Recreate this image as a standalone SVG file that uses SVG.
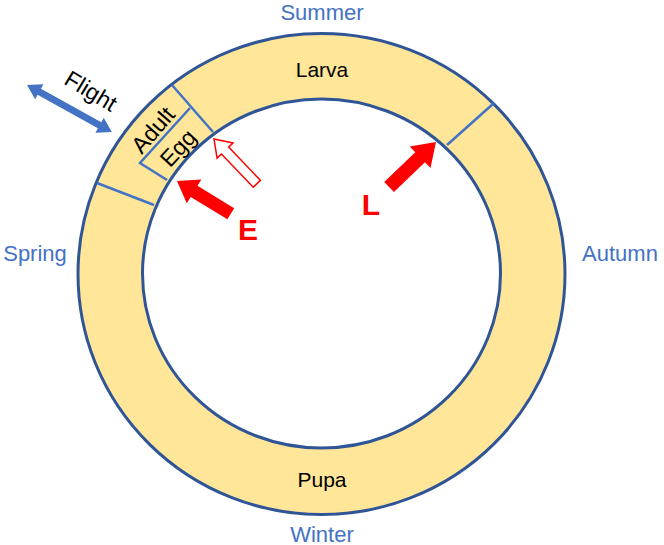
<svg xmlns="http://www.w3.org/2000/svg" width="664" height="545" viewBox="0 0 664 545">
<style>
.ring{stroke:#2F5597;stroke-width:3}
.div{stroke:#4472C4;stroke-width:2.5;fill:none}
.lbl{font-family:"Liberation Sans",Arial,sans-serif;font-size:21px;fill:#000;text-anchor:middle;dominant-baseline:central}
.sm{font-size:23px}
.season{font-family:"Liberation Sans",Arial,sans-serif;font-size:22px;fill:#4472C4;text-anchor:middle;dominant-baseline:central}
.red{font-family:"Liberation Sans",Arial,sans-serif;font-size:30px;font-weight:bold;fill:#FF0000;text-anchor:middle;dominant-baseline:central}
</style>
<rect width="664" height="545" fill="#fff"/>
<g id="ring">
<ellipse class="ring" cx="321.5" cy="274" rx="243.5" ry="240.5" fill="#FFE699"/>
<ellipse class="ring" cx="321.5" cy="273.5" rx="179" ry="174.5" fill="#fff"/>
</g>
<g id="larva">
<line class="div" x1="494" y1="103" x2="447" y2="145"/>
<text class="lbl" x="322" y="69">Larva</text>
</g>
<g id="pupa">
<text class="lbl" x="322" y="479">Pupa</text>
</g>
<g id="adult">
<line class="div" x1="172" y1="85" x2="213" y2="132"/>
<line class="div" x1="97" y1="183" x2="154" y2="205"/>
<text class="lbl sm" transform="translate(153,130) rotate(-49)">Adult</text>
</g>
<g id="egg">
<polyline class="div" points="190,108 140,163 167,180"/>
<text class="lbl sm" transform="translate(178,148) rotate(-47)">Egg</text>
</g>
<g id="seasons">
<text class="season" x="322" y="12">Summer</text>
<text class="season" x="322" y="534">Winter</text>
<text class="season" x="35" y="253">Spring</text>
<text class="season" x="620" y="253">Autumn</text>
</g>
<g id="flight">
<text class="lbl sm" transform="translate(91,91) rotate(31)">Flight</text>
</g>
<g id="connectors">
<polygon fill="#4472C4" transform="translate(27,85) rotate(29)" points="0,0 14,-8.5 14,-3.5 83,-3.5 83,-8.5 97,0 83,8.5 83,3.5 14,3.5 14,8.5"/>
<polygon fill="#FF0000" transform="translate(177,181) rotate(-148.6)" points="0,0 -20,-14 -20,-6.5 -63,-6.5 -63,6.5 -20,6.5 -20,14"/>
<polygon fill="#fff" stroke="#FF0000" stroke-width="1.5" transform="translate(214,139) rotate(-133.7)" points="0,0 -16,-11 -16,-5 -62,-5 -62,5 -16,5 -16,11"/>
<polygon fill="#FF0000" transform="translate(436,142) rotate(-43.8)" points="0,0 -22,-15 -22,-7 -65,-7 -65,7 -22,7 -22,15"/>
</g>
<g id="labels">
<text class="red" x="248" y="229">E</text>
<text class="red" x="371" y="204">L</text>
</g>
</svg>
